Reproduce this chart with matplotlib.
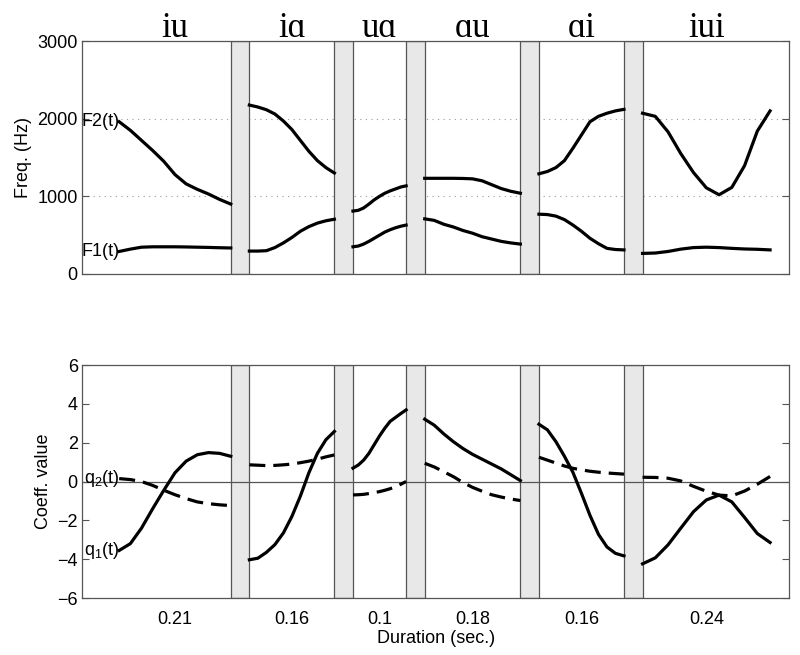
"""Formant tracks and coefficient curves for six vowel transitions."""

import matplotlib.pyplot as plt
import numpy as np

LABELS = ["iu", "iɑ", "uɑ", "ɑu", "ɑi", "iui"]
DURATIONS = [0.21, 0.16, 0.10, 0.18, 0.16, 0.24]

# sample positions within each segment (fraction of its duration)
FRAC = [0.0, 0.1, 0.2, 0.3, 0.4, 0.5, 0.6, 0.7, 0.8, 0.9, 1.0]

# formants in Hz, one list per segment
F2 = [
    [1960, 1850, 1720, 1590, 1450, 1280, 1160, 1090, 1030, 960, 900],
    [2175, 2150, 2115, 2060, 1970, 1860, 1720, 1580, 1460, 1370, 1300],
    [810, 820, 850, 900, 955, 1000, 1040, 1070, 1095, 1120, 1135],
    [1232, 1232, 1232, 1232, 1230, 1225, 1200, 1150, 1100, 1065, 1040],
    [1290, 1320, 1370, 1460, 1620, 1790, 1960, 2030, 2070, 2100, 2120],
    [2070, 2030, 1830, 1550, 1305, 1110, 1020, 1115, 1395, 1840, 2100],
]
F1 = [
    [290, 320, 345, 350, 350, 350, 348, 345, 342, 338, 335],
    [295, 295, 300, 340, 400, 470, 550, 610, 655, 685, 705],
    [350, 360, 385, 420, 460, 500, 540, 570, 595, 615, 630],
    [710, 690, 640, 605, 560, 525, 480, 450, 420, 400, 385],
    [770, 765, 745, 700, 630, 550, 460, 390, 330, 315, 310],
    [265, 270, 290, 320, 340, 345, 340, 330, 322, 318, 310],
]

# coefficient curves
Q1 = [
    [-3.55, -3.2, -2.4, -1.4, -0.45, 0.45, 1.05, 1.38, 1.49, 1.45, 1.3],
    [-4.03, -3.95, -3.65, -3.25, -2.65, -1.8, -0.75, 0.45, 1.45, 2.15, 2.58],
    [0.69, 0.85, 1.1, 1.45, 1.9, 2.35, 2.75, 3.1, 3.3, 3.5, 3.69],
    [3.21, 2.9, 2.45, 2.05, 1.7, 1.4, 1.15, 0.9, 0.65, 0.35, 0.05],
    [2.95, 2.66, 2.05, 1.3, 0.47, -0.61, -1.74, -2.72, -3.37, -3.7, -3.83],
    [-4.24, -3.93, -3.26, -2.4, -1.55, -0.95, -0.7, -1.05, -1.85, -2.68, -3.14],
]
Q2 = [
    [0.15, 0.1, 0.0, -0.2, -0.45, -0.68, -0.88, -1.05, -1.14, -1.2, -1.24],
    [0.86, 0.84, 0.82, 0.83, 0.86, 0.9, 0.97, 1.05, 1.15, 1.27, 1.37],
    [-0.69, -0.68, -0.66, -0.62, -0.57, -0.52, -0.45, -0.37, -0.27, -0.14, 0.0],
    [0.94, 0.75, 0.5, 0.25, -0.05, -0.3, -0.5, -0.68, -0.8, -0.9, -0.98],
    [1.25, 1.1, 0.95, 0.8, 0.68, 0.6, 0.53, 0.48, 0.44, 0.41, 0.38],
    [0.22, 0.21, 0.17, 0.03, -0.25, -0.5, -0.7, -0.74, -0.49, -0.14, 0.26],
]

# layout on the time axis (seconds)
LEAD, GAP, TAIL = 0.07, 0.035, 0.036

durations = np.array(DURATIONS)
starts = LEAD + np.concatenate([[0.0], np.cumsum(durations[:-1] + GAP)])
centers = starts + durations / 2
x_max = starts[-1] + durations[-1] + TAIL

SPINE = "#555555"
SANS = ["Liberation Sans", "DejaVu Sans"]
SERIF = ["Liberation Serif", "DejaVu Serif"]

plt.rcParams["font.family"] = SANS
plt.rcParams["font.size"] = 13
plt.rcParams["mathtext.fontset"] = "custom"
plt.rcParams["mathtext.rm"] = "Liberation Sans"
plt.rcParams["mathtext.it"] = "Liberation Sans:italic"


def segment_x(k):
    return starts[k] + np.array(FRAC) * durations[k]


def style_axes(ax):
    ax.set_xlim(0, x_max)
    for spine in ax.spines.values():
        spine.set_color(SPINE)
        spine.set_linewidth(0.9)
    ax.tick_params(axis="y", direction="in", right=True, length=5, color=SPINE, pad=3)
    ax.tick_params(axis="x", length=0, pad=9)
    # grey separators between the segments
    for k in range(len(DURATIONS) - 1):
        end = starts[k] + durations[k]
        ax.axvspan(end, end + GAP, facecolor="#e8e8e8", edgecolor=SPINE,
                   linewidth=0.9, zorder=2)


fig = plt.figure(figsize=(8, 6.55), dpi=100)
ax_top = fig.add_axes([0.1025, 0.5817, 0.884, 0.3557])
ax_bot = fig.add_axes([0.1025, 0.087, 0.884, 0.3557])

# --- top panel: formant frequencies
style_axes(ax_top)
for y in (1000, 2000):
    ax_top.axhline(y, color="#9a9a9a", linestyle=(0, (1, 4)), linewidth=0.8, zorder=1)
for k in range(len(LABELS)):
    x = segment_x(k)
    ax_top.plot(x, F2[k], color="black", linewidth=2.3, zorder=3)
    ax_top.plot(x, F1[k], color="black", linewidth=2.3, zorder=3)
    ax_top.text(centers[k], 3055, LABELS[k], family=SERIF, fontsize=25,
                ha="center", va="baseline")

ax_top.set_ylim(0, 3000)
ax_top.set_yticks([0, 1000, 2000, 3000])
ax_top.set_xticks([])
ax_top.set_ylabel("Freq. (Hz)", labelpad=4)
ax_top.text(starts[0], F2[0][0], "F2(t)", ha="right", va="center", zorder=4)
ax_top.text(starts[0], F1[0][0], "F1(t)", ha="right", va="center", zorder=4)

# --- bottom panel: coefficient values
style_axes(ax_bot)
ax_bot.axhline(0, color="#555555", linewidth=0.9, zorder=2.5)
for k in range(len(LABELS)):
    x = segment_x(k)
    ax_bot.plot(x, Q1[k], color="black", linewidth=2.3, zorder=3)
    ax_bot.plot(x, Q2[k], color="black", linewidth=2.3, linestyle=(0, (5, 2.5)),
                zorder=3)

ax_bot.set_ylim(-6, 6)
ax_bot.set_yticks(range(-6, 7, 2))
ax_bot.set_xticks(centers)
ax_bot.set_xticklabels([f"{d:g}" for d in DURATIONS])
ax_bot.set_xlabel("Duration (sec.)", labelpad=2)
ax_bot.set_ylabel("Coeff. value", labelpad=4)
ax_bot.text(starts[0], Q2[0][0], "q$_2$(t)", ha="right", va="center", zorder=4)
ax_bot.text(starts[0], Q1[0][0], "q$_1$(t)", ha="right", va="center", zorder=4)

fig.savefig("out.png", dpi=100)
